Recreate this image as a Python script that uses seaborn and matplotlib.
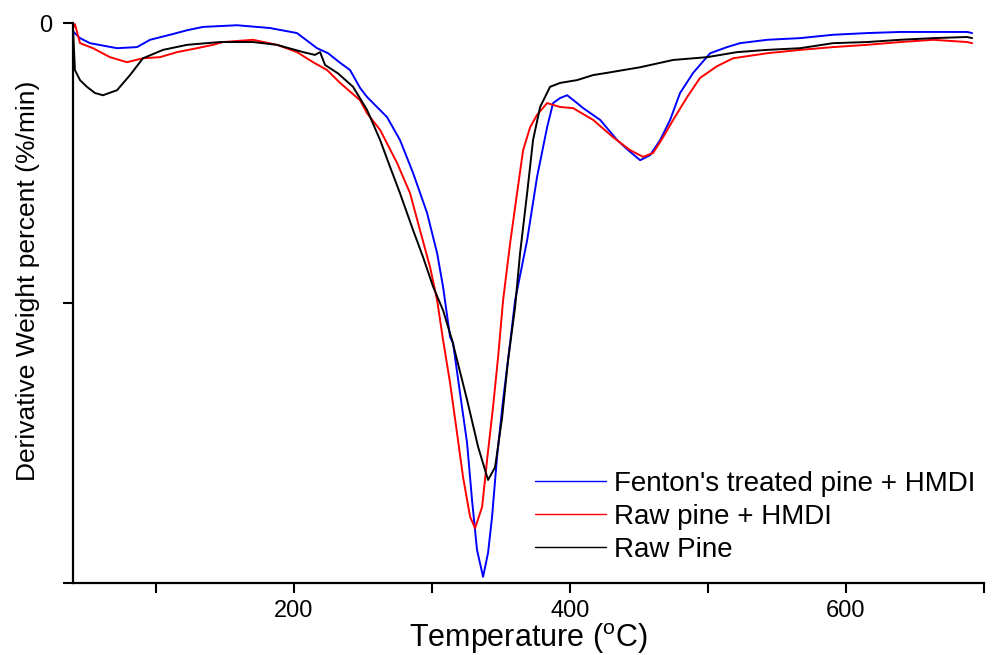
import numpy as np
import pandas as pd
import matplotlib
matplotlib.use("Agg")
import matplotlib.pyplot as plt
import seaborn as sns

# ---------------- data ----------------
series_names = ["Fenton's treated pine + HMDI", "Raw pine + HMDI", "Raw Pine"]
series_colors = ["#0000ff", "#ff0000", "#000000"]

fenton_T = [40.0, 45.1, 52.3, 71.9, 86.4, 95.8, 110.3, 122.6, 134.2, 158.8, 182.7, 202.3, 216.8,
            224.8, 233.5, 240.7, 248.0, 253.0, 267.5, 276.9, 286.4, 296.5, 303.8, 308.1, 313.2,
            315.3, 320.4, 325.5, 329.1, 332.7, 337.1, 340.7, 343.6, 347.2, 351.6, 356.7, 360.3,
            369.0, 376.2, 383.5, 387.8, 392.9, 398.0, 405.2, 409.6, 421.9, 434.2, 443.6, 450.9,
            458.1, 465.4, 472.6, 479.8, 489.3, 501.6, 513.9, 523.3, 542.9, 566.8, 590.7, 615.3,
            639.3, 663.2, 687.8, 691.4]
fenton_V = [-0.15, -0.27, -0.36, -0.45, -0.43, -0.30, -0.21, -0.13, -0.07, -0.04, -0.09, -0.18, -0.45,
            -0.54, -0.71, -0.84, -1.16, -1.32, -1.68, -2.09, -2.68, -3.39, -4.11, -4.71, -5.61,
            -5.71, -6.61, -7.50, -8.52, -9.41, -9.89, -9.46, -8.82, -7.75, -6.73, -5.71, -4.95,
            -3.88, -2.75, -1.86, -1.43, -1.34, -1.29, -1.43, -1.52, -1.73, -2.09, -2.30, -2.45,
            -2.36, -2.09, -1.73, -1.25, -0.89, -0.54, -0.43, -0.36, -0.30, -0.27, -0.21, -0.18,
            -0.16, -0.16, -0.16, -0.18]

rawhmdi_T = [40.0, 41.4, 45.1, 54.5, 66.8, 79.1, 90.7, 103.0, 115.4, 129.8, 141.4, 148.7, 170.4,
             187.8, 202.3, 213.9, 224.1, 233.5, 248.0, 253.0, 262.5, 274.8, 284.2, 291.4, 298.7,
             303.8, 308.1, 313.2, 318.2, 322.6, 327.7, 331.3, 336.4, 340.0, 344.3, 348.0, 351.6,
             356.7, 361.7, 366.1, 371.2, 376.2, 383.5, 392.9, 402.3, 416.8, 431.3, 443.6, 453.0,
             460.3, 467.5, 474.8, 485.0, 494.3, 506.7, 518.2, 542.9, 566.8, 590.7, 615.3, 639.3,
             663.2, 687.8, 691.4]
rawhmdi_V = [-0.10, -0.02, -0.36, -0.45, -0.61, -0.70, -0.63, -0.61, -0.52, -0.45, -0.39, -0.34, -0.30,
             -0.39, -0.52, -0.70, -0.84, -1.07, -1.38, -1.61, -1.91, -2.50, -3.04, -3.70, -4.36,
             -4.95, -5.66, -6.43, -7.32, -8.11, -8.82, -9.02, -8.64, -7.80, -6.86, -5.96, -4.95,
             -3.93, -3.04, -2.27, -1.86, -1.64, -1.43, -1.50, -1.52, -1.73, -2.04, -2.27, -2.39,
             -2.32, -2.04, -1.73, -1.32, -0.98, -0.77, -0.63, -0.54, -0.48, -0.43, -0.39, -0.34,
             -0.30, -0.34, -0.36]

rawpine_T = [40.0, 41.4, 45.1, 50.1, 55.9, 61.7, 71.9, 81.3, 90.7, 105.2, 122.6, 146.5, 170.4,
             187.8, 206.7, 215.3, 219.0, 222.6, 232.0, 242.9, 253.0, 262.5, 269.7, 276.9, 286.4,
             293.6, 300.9, 308.1, 314.6, 325.5, 333.5, 340.7, 345.8, 350.9, 355.2, 360.3, 363.9,
             369.0, 373.3, 378.4, 385.6, 392.9, 405.2, 416.8, 426.9, 450.9, 474.8, 499.4, 521.1,
             542.9, 566.8, 590.7, 615.3, 639.3, 663.2, 687.8, 691.4]
rawpine_V = [-0.09, -0.84, -1.02, -1.14, -1.25, -1.29, -1.20, -0.93, -0.63, -0.48, -0.39, -0.34, -0.34,
             -0.39, -0.52, -0.57, -0.52, -0.75, -0.90, -1.14, -1.55, -2.09, -2.57, -3.04, -3.70,
             -4.18, -4.71, -5.13, -5.66, -6.73, -7.57, -8.16, -7.93, -7.04, -6.02, -5.07, -4.11,
             -3.04, -2.09, -1.50, -1.14, -1.07, -1.02, -0.93, -0.89, -0.79, -0.66, -0.61, -0.52,
             -0.48, -0.45, -0.36, -0.34, -0.30, -0.27, -0.25, -0.27]

x_ticks = [100, 200, 300, 400, 500, 600, 700]
x_tick_labels = ["", "200", "", "400", "", "600", ""]
y_ticks = [0, -5, -10]
y_tick_labels = ["0", "", ""]

# ---------------- build long-form table ----------------
frames = []
for name, T, V in zip(series_names,
                      [fenton_T, rawhmdi_T, rawpine_T],
                      [fenton_V, rawhmdi_V, rawpine_V]):
    frames.append(pd.DataFrame({"Temperature": T, "DTG": V, "Sample": name}))
df = pd.concat(frames, ignore_index=True)

# ---------------- style ----------------
sns.set_style("ticks")
plt.rcParams["font.family"] = ["Liberation Sans", "DejaVu Sans"]
plt.rcParams["mathtext.fontset"] = "custom"
plt.rcParams["mathtext.rm"] = "Liberation Sans"
for key in ["text.color", "axes.labelcolor", "xtick.color", "ytick.color", "axes.edgecolor"]:
    plt.rcParams[key] = "black"

fig = plt.figure(figsize=(10.06, 6.55), dpi=100)
ax = fig.add_axes([73 / 1006, 1 - 583 / 655, (984 - 73) / 1006, (583 - 23) / 655])

sns.lineplot(data=df, x="Temperature", y="DTG", hue="Sample", hue_order=series_names,
             palette=series_colors, estimator=None, sort=False, linewidth=1.4, ax=ax)

ax.set_xlim(40, 700)
ax.set_ylim(-10, 0)
ax.set_xticks(x_ticks)
ax.set_xticklabels(x_tick_labels)
ax.set_yticks(y_ticks)
ax.set_yticklabels(y_tick_labels)
ax.tick_params(axis="both", direction="out", length=7, width=1.5, labelsize=17,
               colors="black", labelcolor="black")
ax.tick_params(axis="x", pad=5)
ax.tick_params(axis="y", pad=8)

for s in ["top", "right"]:
    ax.spines[s].set_visible(False)
for s in ["left", "bottom"]:
    ax.spines[s].set_linewidth(1.6)
    ax.spines[s].set_color("black")

ax.set_xlabel(r"Temperature ($^{\mathrm{o}}$C)", fontsize=22, labelpad=0, color="black")
ax.set_ylabel("Derivative Weight percent (%/min)", fontsize=19, color="black")
ax.yaxis.set_label_coords(-0.036, 0.54)

leg = ax.legend(loc="upper left", bbox_to_anchor=(535 / 1006, 1 - 471 / 655),
                bbox_transform=fig.transFigure, frameon=False, fontsize=20,
                handlelength=2.55, handletextpad=0.3, labelspacing=0.25,
                borderpad=0, borderaxespad=0)
for line in leg.get_lines():
    line.set_linewidth(1.0)
for t in leg.get_texts():
    t.set_color("black")

fig.savefig("out.png", dpi=100)
